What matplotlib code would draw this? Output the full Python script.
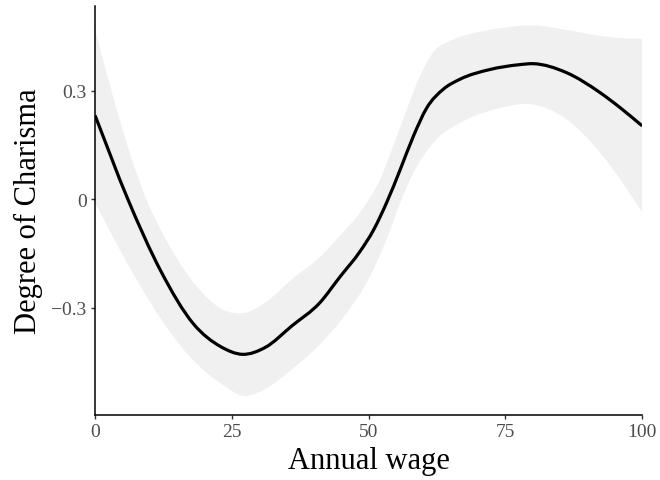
import numpy as np
import matplotlib.pyplot as plt
from matplotlib.path import Path
from matplotlib.patches import PathPatch

plt.rcParams['font.family'] = ['Liberation Serif', 'DejaVu Serif']

# ── data ───────────────────────────────────
fit_x = [0, 6, 12, 18, 23, 27, 31.1, 36.0, 41.1, 44.8, 48.4, 50.9, 53.3,
         55.8, 58.2, 60.6, 63.7, 66.7, 72.2, 77.4, 80.1, 86.2, 92.3, 96.0, 100]
fit_y = [0.232, 0.0, -0.198, -0.345, -0.408, -0.429, -0.410, -0.350, -0.286,
         -0.214, -0.145, -0.085, -0.009, 0.083, 0.175, 0.252, 0.305, 0.332,
         0.359, 0.372, 0.375, 0.350, 0.295, 0.253, 0.203]

upper_x = [0, 3.0, 6.2, 9.7, 12.2, 18, 23.2, 27.2, 31.1, 36.0, 41.1, 44.8,
           48.4, 52.1, 54.5, 57.0, 59.4, 61.8, 65.5, 71.0, 77.4, 80.1, 86.2,
           92.3, 96.0, 100]
upper_y = [0.470, 0.300, 0.135, -0.012, -0.090, -0.230, -0.304, -0.315,
           -0.286, -0.221, -0.160, -0.100, -0.037, 0.055, 0.147, 0.249, 0.341,
           0.406, 0.442, 0.465, 0.479, 0.481, 0.468, 0.452, 0.446, 0.444]

lower_x = [0, 6, 12, 17, 23.5, 27.1, 31.1, 36.0, 40.8, 45.1, 50.3, 53.3, 55.8,
           58.2, 61.5, 68.0, 74.0, 79.5, 86.2, 92.3, 96.0, 100]
lower_y = [-0.010, -0.180, -0.330, -0.430, -0.515, -0.544, -0.525, -0.470,
           -0.406, -0.332, -0.212, -0.110, -0.009, 0.074, 0.150, 0.221, 0.252,
           0.263, 0.221, 0.129, 0.055, -0.037]

x_ticks = [0, 25, 50, 75, 100]
y_ticks = [-0.3, 0, 0.3]
y_labels = ['\u22120.3', '0', '0.3']


def smooth_segments(x, y):
    """Bezier control points for a smooth curve through the points (cubic Hermite)."""
    x = np.asarray(x, float)
    y = np.asarray(y, float)
    n = len(x)
    m = np.zeros(n)
    m[0] = (y[1] - y[0]) / (x[1] - x[0])
    m[-1] = (y[-1] - y[-2]) / (x[-1] - x[-2])
    for i in range(1, n - 1):
        h0, h1 = x[i] - x[i - 1], x[i + 1] - x[i]
        d0, d1 = (y[i] - y[i - 1]) / h0, (y[i + 1] - y[i]) / h1
        m[i] = (h1 * d0 + h0 * d1) / (h0 + h1)
    verts = []
    for i in range(n - 1):
        h = x[i + 1] - x[i]
        verts += [(x[i] + h / 3, y[i] + m[i] * h / 3),
                  (x[i + 1] - h / 3, y[i + 1] - m[i + 1] * h / 3),
                  (x[i + 1], y[i + 1])]
    return verts


# ── plot ───────────────────────────────────
fig = plt.figure(figsize=(6.6, 4.81), dpi=100)
ax = fig.add_axes([0.144, 0.135, 0.829, 0.850])

# confidence band
up = smooth_segments(upper_x, upper_y)
lo = smooth_segments(lower_x[::-1], lower_y[::-1])
band_verts = ([(upper_x[0], upper_y[0])] + up + [(lower_x[-1], lower_y[-1])]
              + lo + [(0, 0)])
band_codes = ([Path.MOVETO] + [Path.CURVE4] * len(up) + [Path.LINETO]
              + [Path.CURVE4] * len(lo) + [Path.CLOSEPOLY])
ax.add_patch(PathPatch(Path(band_verts, band_codes), facecolor='#f0f0f0',
                       edgecolor='none', lw=0))

# fitted line
fv = smooth_segments(fit_x, fit_y)
ax.add_patch(PathPatch(Path([(fit_x[0], fit_y[0])] + fv,
                            [Path.MOVETO] + [Path.CURVE4] * len(fv)),
                       facecolor='none', edgecolor='black', lw=2.3,
                       capstyle='butt'))

ax.set_xlim(0, 100)
ax.set_ylim(-0.597, 0.534)
ax.set_xticks(x_ticks)
ax.set_xticklabels([str(t) for t in x_ticks])
ax.set_yticks(y_ticks)
ax.set_yticklabels(y_labels)

for s in ['top', 'right']:
    ax.spines[s].set_visible(False)
for s in ['left', 'bottom']:
    ax.spines[s].set_linewidth(1.1)
    ax.spines[s].set_color('black')

ax.tick_params(length=3, width=1.0, color='#333333', labelcolor='#4d4d4d',
               labelsize=14, pad=3)
ax.set_xlabel('Annual wage', fontsize=22, labelpad=4)
ax.set_ylabel('Degree of Charisma', fontsize=22, labelpad=6)

fig.savefig('out.png', dpi=100)
